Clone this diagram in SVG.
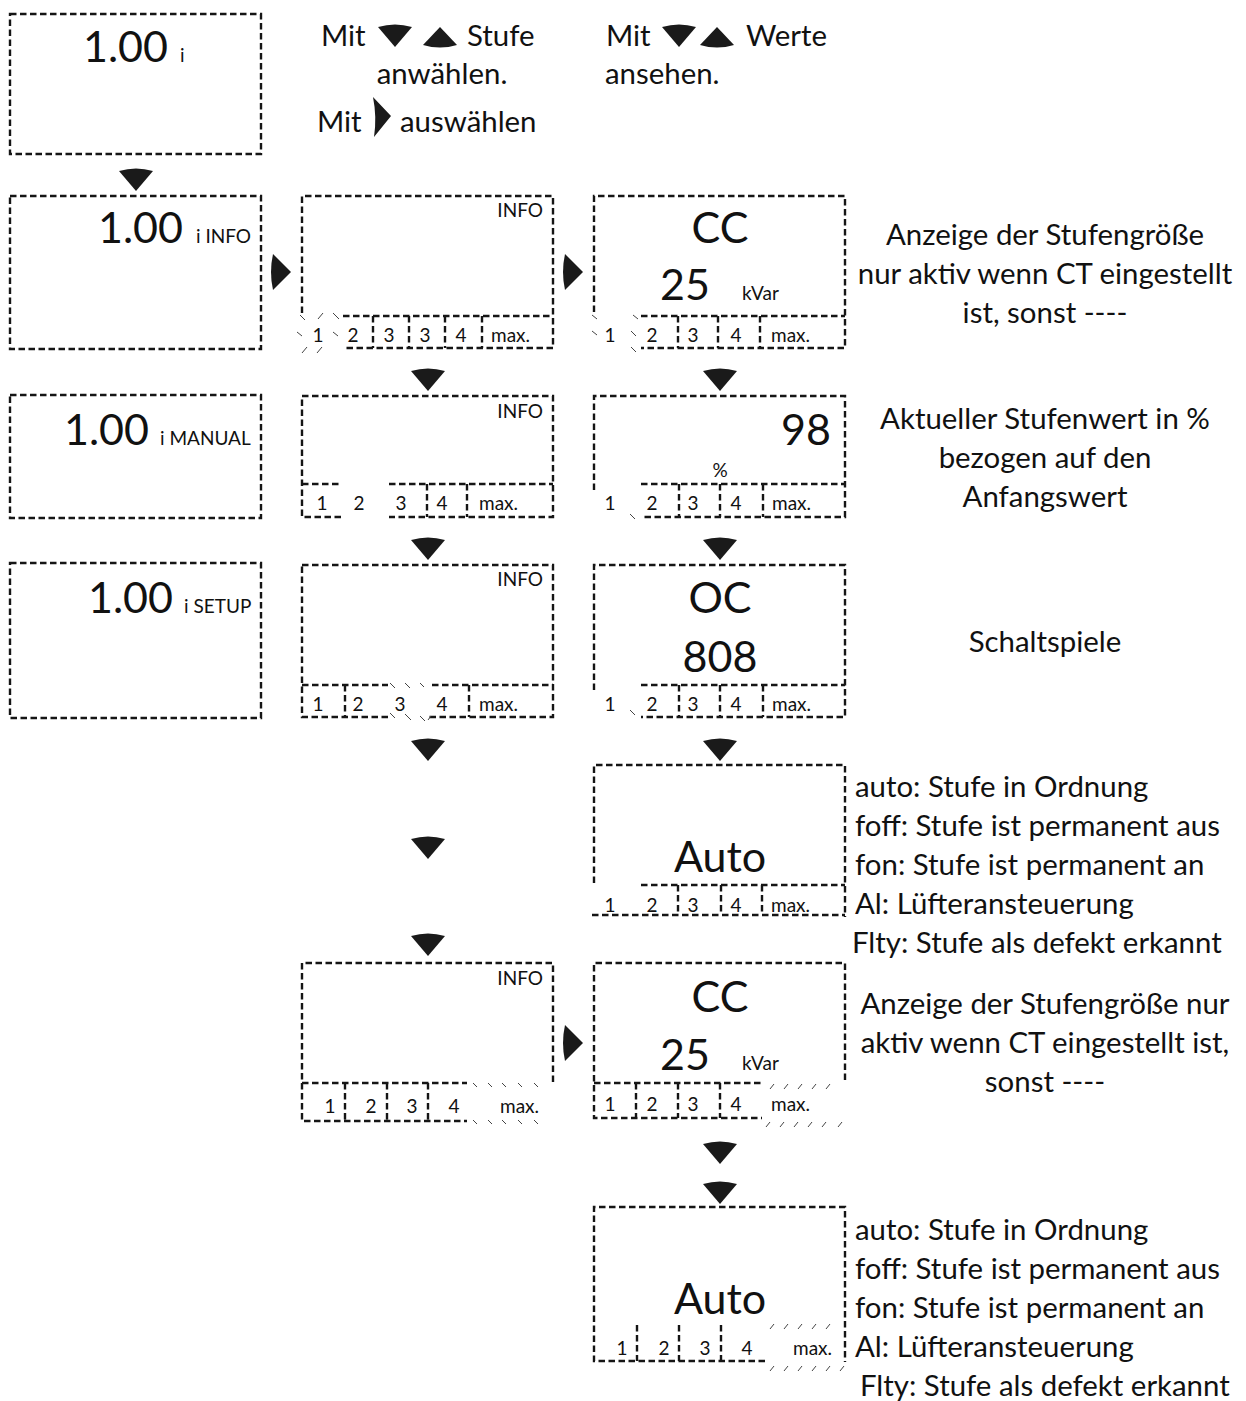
<svg xmlns="http://www.w3.org/2000/svg" width="1246" height="1401" viewBox="0 0 1246 1401">
<style>
.b{fill:none;stroke:#151515;stroke-width:2.4;stroke-dasharray:6.5 3.5}
.h{fill:none;stroke:#444;stroke-width:1}
.tri{fill:#1a1a1a;stroke:none}
text{font-family:Lato,'Open Sans','Liberation Sans',sans-serif;fill:#111}
.big{font-size:43px}
.sm{font-size:19px}
.cell{font-size:19px;text-anchor:middle}
.lbl{font-size:29.4px}
.c{text-anchor:middle}
.e{text-anchor:end}
</style>
<defs>
<path id="dn" d="M-17,0 Q0,-5 17,0 L0,20 Z"/>
<path id="up" d="M-17,0 Q0,5 17,0 L0,-18 Z"/>
<path id="rt" d="M0,-18 Q-4,0 0,18 L18,0 Z"/>
</defs>
<rect width="1246" height="1401" fill="#fff"/>

<!-- header texts -->
<g id="hdr">
<text class="lbl" x="321" y="46">Mit</text>
<use href="#dn" x="395" y="27" class="tri"/>
<use href="#up" x="440" y="45" class="tri"/>
<text class="lbl" x="467" y="46">Stufe</text>
<text class="lbl c" x="442" y="84">anwählen.</text>
<text class="lbl" x="317" y="132">Mit</text>
<path class="tri" d="M373,97 Q377,117 374,137 L391,116 Z"/>
<text class="lbl" x="400" y="132">auswählen</text>
<text class="lbl" x="606" y="46">Mit</text>
<use href="#dn" x="679" y="27" class="tri"/>
<use href="#up" x="717" y="45" class="tri"/>
<text class="lbl" x="746" y="46">Werte</text>
<text class="lbl" x="605" y="84">ansehen.</text>
</g>

<!-- column 1 -->
<g id="n1">
<rect class="b" x="10" y="14" width="251" height="140"/>
<text class="big e" x="168" y="62">1.00</text>
<text class="sm" x="180" y="62">i</text>
</g>
<g id="n2">
<rect class="b" x="10" y="196" width="251" height="153"/>
<text class="big e" x="183" y="243">1.00</text>
<text class="sm" x="196" y="243">i INFO</text>
</g>
<g id="n3">
<rect class="b" x="10" y="395" width="251" height="123"/>
<text class="big e" x="149" y="445">1.00</text>
<text class="sm" x="160" y="445">i MANUAL</text>
</g>
<g id="n4">
<rect class="b" x="10" y="563" width="251" height="155"/>
<text class="big e" x="173" y="613">1.00</text>
<text class="sm" x="184" y="613">i SETUP</text>
</g>

<!-- row 2 col 2 -->
<g id="n5">
<path class="b" d="M302,313 V196 H553 V348 H343 M343,316 H553 M373,316 V348 M409,316 V348 M445,316 V348 M482,316 V348"/>
<text class="sm e" x="543" y="217">INFO</text>
<text class="cell" x="318" y="342">1</text>
<text class="cell" x="353" y="342">2</text>
<text class="cell" x="389" y="342">3</text>
<text class="cell" x="425" y="342">3</text>
<text class="cell" x="461" y="342">4</text>
<text class="sm" x="491" y="342">max.</text>
<path class="h" d="M300,315 l5,5 M318,319 l5,-6 M333,313 l6,6 M297,332 l5,4 M333,332 l5,4 M302,353 l5,-6 M317,353 l5,-6"/>
</g>

<!-- row 2 col 3 -->
<g id="n6">
<path class="b" d="M594,312 V196 H845 V348 H641 M641,316 H845 M678,316 V348 M718,316 V348 M760,316 V348"/>
<text class="big c" x="720" y="243">CC</text>
<text class="big" x="660" y="300">25</text>
<text class="sm" x="742" y="300">kVar</text>
<text class="cell" x="610" y="342">1</text>
<text class="cell" x="652" y="342">2</text>
<text class="cell" x="693" y="342">3</text>
<text class="cell" x="736" y="342">4</text>
<text class="sm" x="771" y="342">max.</text>
<path class="h" d="M592,315 l5,4 M592,331 l5,4 M633,315 l5,4 M631,331 l5,5 M631,347 l5,5"/>
</g>

<!-- row 3 col 2 -->
<g id="n7">
<path class="b" d="M302,396 H553 V517 H389 M341,517 H302 V396 M302,484 H341 M389,484 H553 M427,484 V517 M467,484 V517"/>
<text class="sm e" x="543" y="418">INFO</text>
<text class="cell" x="322" y="510">1</text>
<text class="cell" x="359" y="510">2</text>
<text class="cell" x="401" y="510">3</text>
<text class="cell" x="442" y="510">4</text>
<text class="sm" x="479" y="510">max.</text>
</g>

<!-- row 3 col 3 -->
<g id="n8">
<path class="b" d="M594,490 V396 H845 V517 H641 M641,484 H845 M679,484 V517 M720,484 V517 M763,484 V517"/>
<text class="big e" x="831" y="445">98</text>
<text class="sm c" x="720" y="477">%</text>
<text class="cell" x="610" y="510">1</text>
<text class="cell" x="652" y="510">2</text>
<text class="cell" x="693" y="510">3</text>
<text class="cell" x="736" y="510">4</text>
<text class="sm" x="772" y="510">max.</text>
<path class="h" d="M630,514 l5,5"/>
</g>

<!-- row 4 col 2 -->
<g id="n9">
<path class="b" d="M302,565 H553 V717 H428 M388,717 H302 V565 M302,685 H388 M432,685 H553 M345,685 V717 M469,685 V717"/>
<text class="sm e" x="543" y="586">INFO</text>
<text class="cell" x="318" y="711">1</text>
<text class="cell" x="358" y="711">2</text>
<text class="cell" x="400" y="711">3</text>
<text class="cell" x="442" y="711">4</text>
<text class="sm" x="479" y="711">max.</text>
<path class="h" d="M390,683 l5,5 M405,683 l5,5 M420,683 l4,4 M390,713 l5,5 M405,714 l6,6 M420,716 l5,5 M428,720 l3,-4"/>
</g>

<!-- row 4 col 3 -->
<g id="n10">
<path class="b" d="M594,690 V565 H845 V717 H641 M641,685 H845 M679,685 V717 M720,685 V717 M763,685 V717"/>
<text class="big c" x="720" y="613">OC</text>
<text class="big c" x="720" y="672">808</text>
<text class="cell" x="610" y="711">1</text>
<text class="cell" x="652" y="711">2</text>
<text class="cell" x="693" y="711">3</text>
<text class="cell" x="736" y="711">4</text>
<text class="sm" x="772" y="711">max.</text>
<path class="h" d="M630,710 l5,5"/>
</g>

<!-- row 5 col 3 -->
<g id="n11">
<path class="b" d="M594,883 V765 H845 V917 M592,915 H845 M641,885 H845 M678,885 V915 M721,885 V915 M762,885 V915"/>
<text class="big c" x="720" y="872">Auto</text>
<text class="cell" x="610" y="912">1</text>
<text class="cell" x="652" y="912">2</text>
<text class="cell" x="693" y="912">3</text>
<text class="cell" x="736" y="912">4</text>
<text class="sm" x="771" y="912">max.</text>
</g>

<!-- row 6 col 2 -->
<g id="n12">
<path class="b" d="M553,1082 V963 H302 V1121 H467 M302,1083 H467 M345,1083 V1121 M387,1083 V1121 M428,1083 V1121"/>
<text class="sm e" x="543" y="985">INFO</text>
<text class="cell" x="330" y="1113">1</text>
<text class="cell" x="371" y="1113">2</text>
<text class="cell" x="412" y="1113">3</text>
<text class="cell" x="454" y="1113">4</text>
<text class="sm" x="500" y="1113">max.</text>
<path class="h" d="M473,1083 l4,4 M488,1083 l4,4 M502,1083 l4,4 M518,1083 l4,4 M534,1083 l4,4 M473,1120 l4,4 M488,1120 l4,4 M502,1120 l4,4 M518,1120 l4,4 M534,1120 l4,4"/>
</g>

<!-- row 6 col 3 -->
<g id="n13">
<path class="b" d="M845,1080 V963 H594 V1118 H762 M594,1083 H762 M636,1083 V1118 M678,1083 V1118 M720,1083 V1118"/>
<text class="big c" x="720" y="1012">CC</text>
<text class="big" x="660" y="1070">25</text>
<text class="sm" x="742" y="1070">kVar</text>
<text class="cell" x="610" y="1111">1</text>
<text class="cell" x="652" y="1111">2</text>
<text class="cell" x="693" y="1111">3</text>
<text class="cell" x="736" y="1111">4</text>
<text class="sm" x="771" y="1111">max.</text>
<path class="h" d="M770,1089 l4,-5 M784,1089 l4,-5 M798,1089 l4,-5 M812,1089 l4,-5 M826,1089 l4,-5 M766,1127 l4,-5 M780,1127 l4,-5 M794,1127 l4,-5 M808,1127 l4,-5 M822,1127 l4,-5 M838,1127 l4,-5"/>
</g>

<!-- row 7 col 3 -->
<g id="n14">
<path class="b" d="M765,1361 H594 V1207 H845 V1362 M637,1325 V1361 M679,1325 V1361 M721,1325 V1361"/>
<text class="big c" x="720" y="1314">Auto</text>
<text class="cell" x="622" y="1355">1</text>
<text class="cell" x="664" y="1355">2</text>
<text class="cell" x="705" y="1355">3</text>
<text class="cell" x="747" y="1355">4</text>
<text class="sm" x="793" y="1355">max.</text>
<path class="h" d="M770,1329 l4,-5 M784,1329 l4,-5 M798,1329 l4,-5 M812,1329 l4,-5 M826,1329 l4,-5 M770,1371 l4,-5 M784,1371 l4,-5 M798,1371 l4,-5 M812,1371 l4,-5 M826,1371 l4,-5 M840,1371 l4,-5"/>
</g>

<!-- side descriptions -->
<g id="d1">
<text class="lbl c" x="1045" y="245">Anzeige der Stufengröße</text>
<text class="lbl c" x="1045" y="284">nur aktiv wenn CT eingestellt</text>
<text class="lbl c" x="1045" y="323">ist, sonst ----</text>
</g>
<g id="d2">
<text class="lbl c" x="1045" y="429">Aktueller Stufenwert in %</text>
<text class="lbl c" x="1045" y="468">bezogen auf den</text>
<text class="lbl c" x="1045" y="507">Anfangswert</text>
</g>
<g id="d3">
<text class="lbl c" x="1045" y="652">Schaltspiele</text>
</g>
<g id="d4">
<text class="lbl" x="855" y="797">auto: Stufe in Ordnung</text>
<text class="lbl" x="855" y="836">foff: Stufe ist permanent aus</text>
<text class="lbl" x="855" y="875">fon: Stufe ist permanent an</text>
<text class="lbl" x="855" y="914">Al: Lüfteransteuerung</text>
<text class="lbl" x="852" y="953">Flty: Stufe als defekt erkannt</text>
</g>
<g id="d5">
<text class="lbl c" x="1045" y="1014">Anzeige der Stufengröße nur</text>
<text class="lbl c" x="1045" y="1053">aktiv wenn CT eingestellt ist,</text>
<text class="lbl c" x="1045" y="1092">sonst ----</text>
</g>
<g id="d6">
<text class="lbl" x="855" y="1240">auto: Stufe in Ordnung</text>
<text class="lbl" x="855" y="1279">foff: Stufe ist permanent aus</text>
<text class="lbl" x="855" y="1318">fon: Stufe ist permanent an</text>
<text class="lbl" x="855" y="1357">Al: Lüfteransteuerung</text>
<text class="lbl" x="860" y="1396">Flty: Stufe als defekt erkannt</text>
</g>

<!-- connectors -->
<g id="connectors" class="tri">
<use href="#dn" x="136" y="171"/>
<use href="#rt" x="273" y="272"/>
<use href="#rt" x="565" y="272"/>
<use href="#dn" x="428" y="371"/>
<use href="#dn" x="720" y="371"/>
<use href="#dn" x="428" y="540"/>
<use href="#dn" x="720" y="540"/>
<use href="#dn" x="428" y="741"/>
<use href="#dn" x="720" y="741"/>
<use href="#dn" x="428" y="839"/>
<use href="#dn" x="428" y="936"/>
<use href="#rt" x="565" y="1043"/>
<use href="#dn" x="720" y="1144"/>
<use href="#dn" x="720" y="1184"/>
</g>
</svg>
